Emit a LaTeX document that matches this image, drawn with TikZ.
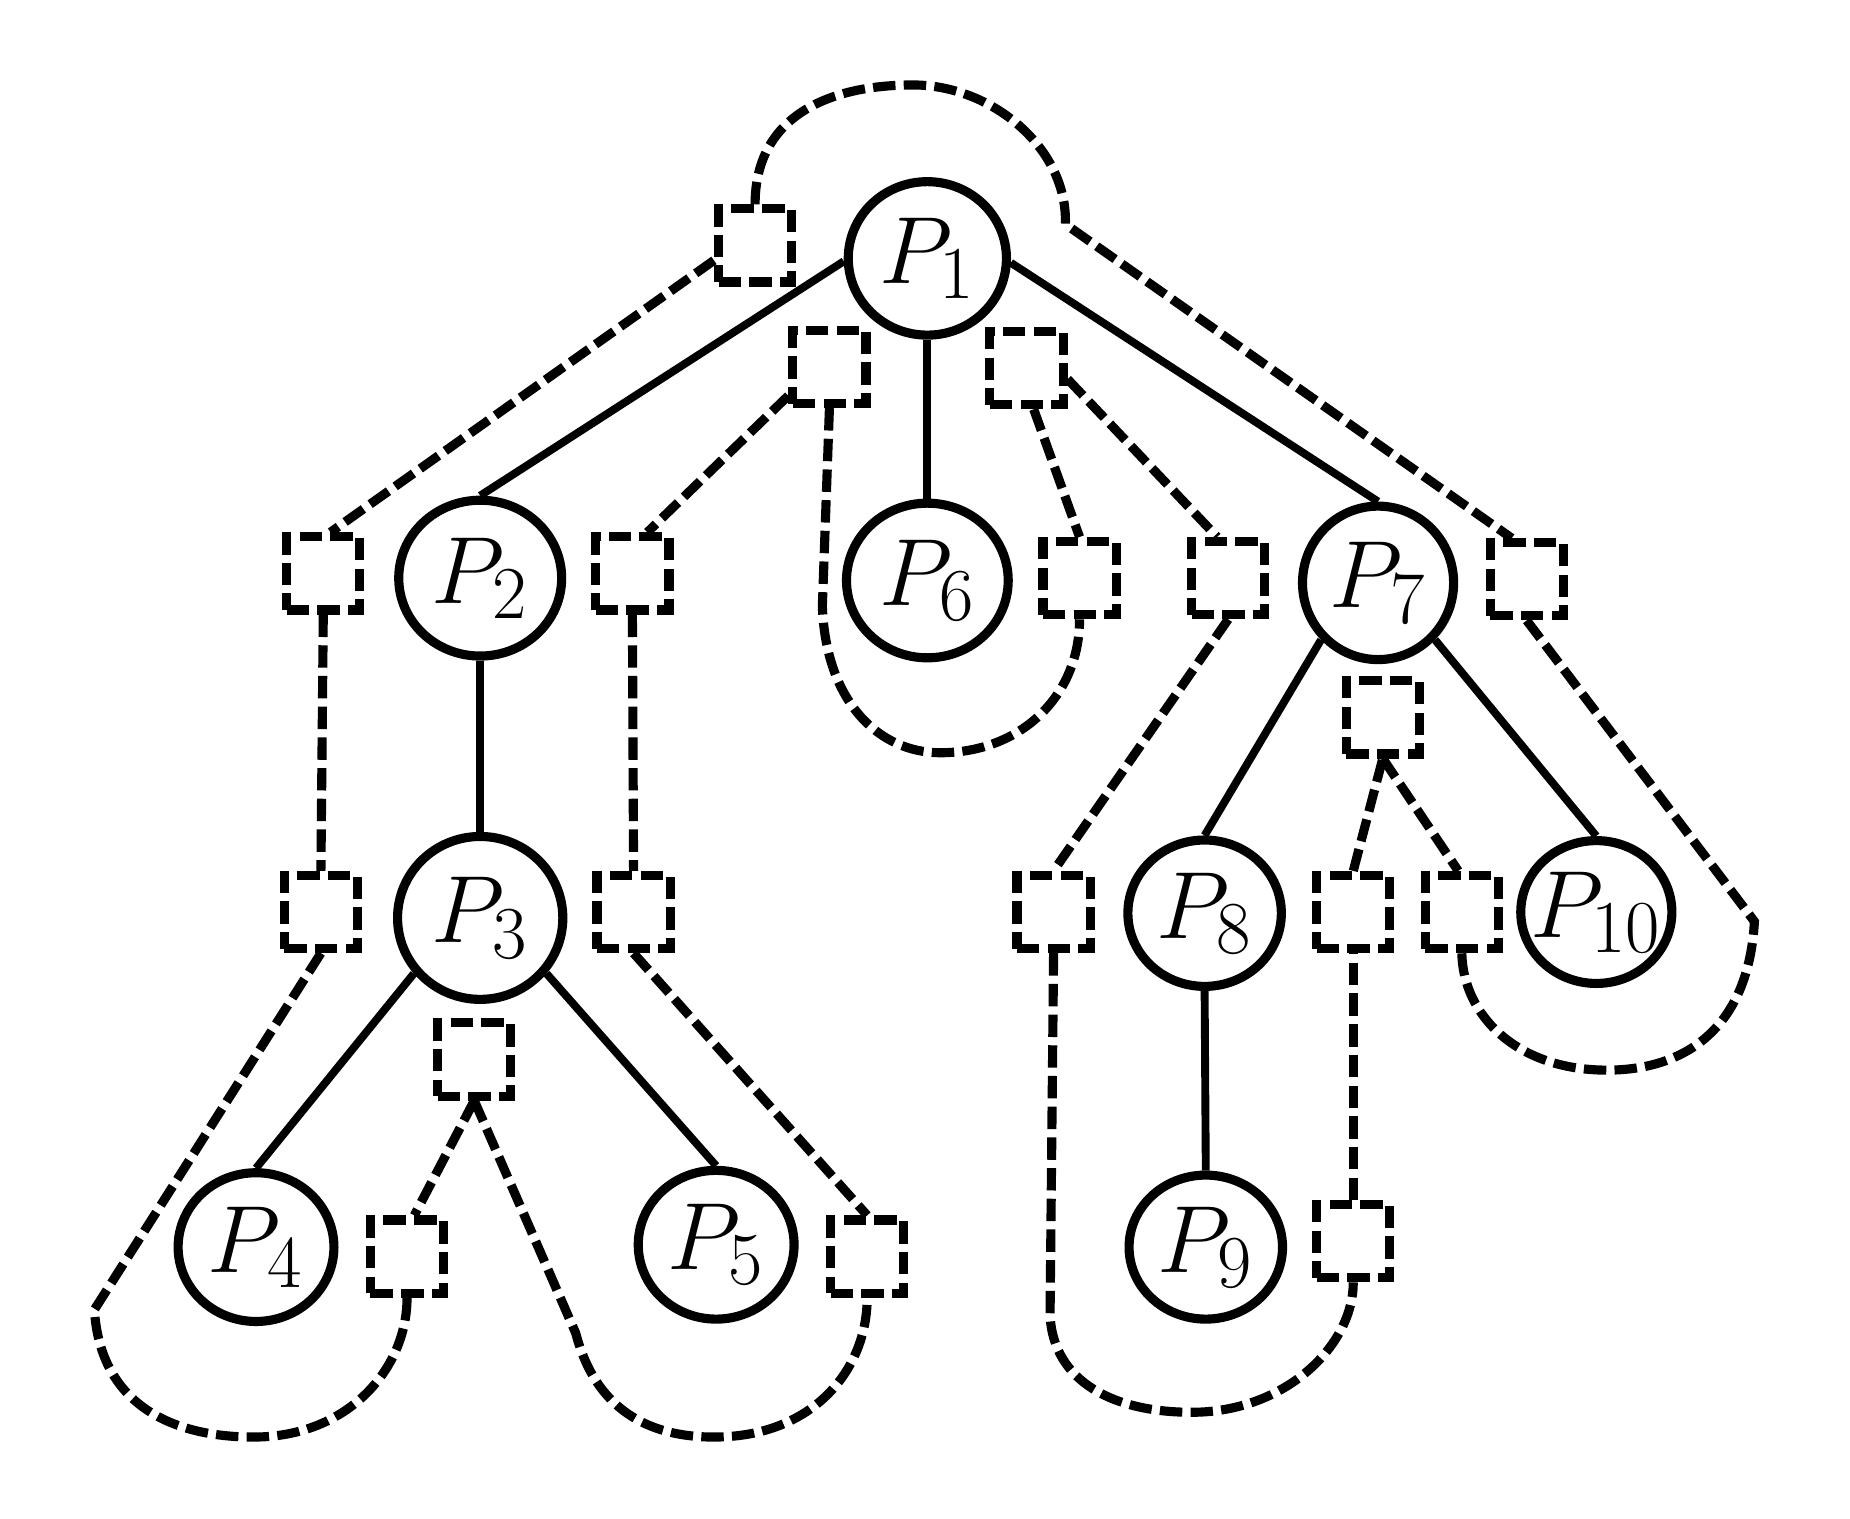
\RequirePackage{fix-cm}
\documentclass[tikz,border=0pt]{standalone}
\usetikzlibrary{shapes.geometric}
\DeclareMathSizes{23}{23}{18}{13}

\tikzset{
  proc/.style={ellipse, draw, line width=2.2pt, inner sep=0pt,
    label={[font=\fontsize{23}{28}\selectfont, inner sep=0pt]center:{#1}}},
  slot/.style={rectangle, draw, line width=2.2pt,
    dash pattern=on 0.19cm off 0.07cm,
    minimum width=0.62cm, minimum height=0.62cm, inner sep=0pt},
  link/.style={line width=1.9pt},
  trail/.style={line width=2.2pt, dash pattern=on 0.19cm off 0.07cm},
}

\begin{document}
\begin{tikzpicture}[x=0.01cm, y=-0.01cm]
\useasboundingbox (0,0) rectangle (1568,1287);

% processes
\node[proc={$P_1$},    minimum width=1.34cm, minimum height=1.30cm] (p1)  at (786,219)  {};
\node[proc={$P_2$},    minimum width=1.38cm, minimum height=1.32cm] (p2)  at (407,490)  {};
\node[proc={$P_3$},    minimum width=1.40cm, minimum height=1.38cm] (p3)  at (407,778)  {};
\node[proc={$P_4$},    minimum width=1.32cm, minimum height=1.26cm] (p4)  at (217,1057) {};
\node[proc={$P_5$},    minimum width=1.32cm, minimum height=1.26cm] (p5)  at (607,1055) {};
\node[proc={$P_6$},    minimum width=1.37cm, minimum height=1.31cm] (p6)  at (786,492)  {};
\node[proc={$P_7$},    minimum width=1.28cm, minimum height=1.30cm] (p7)  at (1168,494) {};
\node[proc={$P_8$},    minimum width=1.30cm, minimum height=1.24cm] (p8)  at (1021,774) {};
\node[proc={$P_9$},    minimum width=1.30cm, minimum height=1.22cm] (p9)  at (1022,1057) {};
\node[proc={$P_{10}$}, minimum width=1.28cm, minimum height=1.21cm] (p10) at (1353,773) {};

% slots
\node[slot] (sa) at (640,208)  {};
\node[slot] (sb) at (703,311)  {};
\node[slot] (sc) at (870,312)  {};
\node[slot] (sd) at (274,486)  {};
\node[slot] (se) at (536,486)  {};
\node[slot] (sf) at (915,490)  {};
\node[slot] (sg) at (1041,490) {};
\node[slot] (sh) at (1294,491) {};
\node[slot] (si) at (1172,608) {};
\node[slot] (sj) at (272,773)  {};
\node[slot] (sk) at (537,773)  {};
\node[slot] (sl) at (402,898)  {};
\node[slot] (sm) at (893,773)  {};
\node[slot] (sn) at (1147,773) {};
\node[slot] (so) at (1239,773) {};
\node[slot] (sp) at (345,1065) {};
\node[slot] (sq) at (735,1065) {};
\node[slot] (sr) at (1147,1052) {};

% tree edges
\draw[link] (p1.182) -- (p2.north);
\draw[link] (p1.south) -- (p6.north);
\draw[link] (p1.-3) -- (p7.north);
\draw[link] (p2.south) -- (p3.north);
\draw[link] (p3.220) -- (p4.north);
\draw[link] (p3.-40) -- (p5.north);
\draw[link] (p7.225) -- (p8.north);
\draw[link] (p7.-45) -- (p10.north);
\draw[link] (p8.south) -- (p9.north);

% dashed trails between slots
\draw[trail] (sa.north) .. controls (640,100) and (700,72) .. (774,72)
  .. controls (840,72) and (905,125) .. (903,190) -- (sh.110);
\draw[trail] (sh.south) -- (1487,781) .. controls (1482,870) and (1430,907) .. (1362,907)
  .. controls (1285,907) and (1240,860) .. (so.south);
\draw[trail] (sa.200) -- (sd.80);
\draw[trail] (sd.south) -- (sj.north);
\draw[trail] (sj.south) -- (80,1110) .. controls (85,1190) and (145,1218) .. (215,1218)
  .. controls (295,1218) and (345,1160) .. (sp.south);
\draw[trail] (sb.215) -- (se.70);
\draw[trail] (sb.south) -- (697,514) .. controls (700,595) and (745,638) .. (797,638)
  .. controls (865,638) and (915,590) .. (sf.south);
\draw[trail] (se.south) -- (sk.north);
\draw[trail] (sk.south) -- (sq.north);
\draw[trail] (sl.south) -- (488,1130) .. controls (505,1195) and (550,1218) .. (605,1218)
  .. controls (690,1218) and (735,1160) .. (sq.south);
\draw[trail] (sl.south) -- (sp.80);
\draw[trail] (sc.-80) -- (sf.north);
\draw[trail] (sc.-15) -- (sg.105);
\draw[trail] (sg.south) -- (sm.north);
\draw[trail] (sm.south) -- (890,1115) .. controls (893,1172) and (945,1197) .. (1010,1197)
  .. controls (1090,1197) and (1147,1140) .. (sr.south);
\draw[trail] (sr.north) -- (sn.south);
\draw[trail] (sn.north) -- (si.south);
\draw[trail] (si.south) -- (so.95);
\end{tikzpicture}
\end{document}
